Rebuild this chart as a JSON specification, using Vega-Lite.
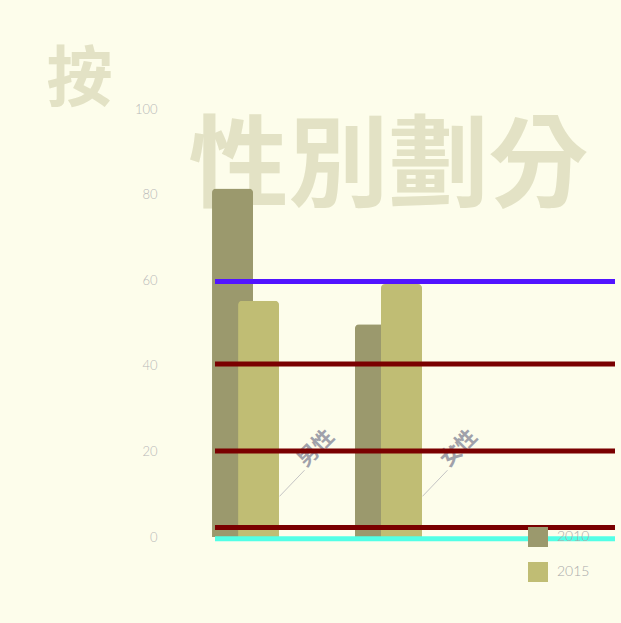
{
  "$schema": "https://vega.github.io/schema/vega-lite/v6.json",
  "width": 400,
  "height": 428,
  "autosize": {"type": "none"},
  "padding": {"left": 215, "top": 109, "right": 6, "bottom": 86},
  "background": "#fdfdeb",
  "config": {"view": {"stroke": null}},
  "data": {
    "values": [
      {"gender": "男性", "year": "2010", "value": 81.4},
      {"gender": "男性", "year": "2015", "value": 55.2},
      {"gender": "女性", "year": "2010", "value": 49.7},
      {"gender": "女性", "year": "2015", "value": 59.1}
    ]
  },
  "layer": [
    {
      "transform": [{"filter": "datum.year == '2010'"}],
      "mark": {"type": "bar", "width": 41, "color": "#000000", "opacity": 0.09, "cornerRadiusTopLeft": 4, "cornerRadiusTopRight": 4, "xOffset": -4, "yOffset": 2},
      "encoding": {
        "x": {"field": "gender", "type": "nominal", "sort": ["男性", "女性"], "scale": {"paddingInner": 0.636, "paddingOuter": 0.717, "align": 0.022},
          "axis": {"domain": false, "ticks": false, "labelAngle": -45, "labelAlign": "left", "labelBaseline": "middle", "labelOffset": 56, "labelPadding": -74, "labelFont": "Noto Sans CJK TC", "labelFontWeight": "bold", "labelFontSize": 21, "labelColor": "#a0a1aa",
            "title": "按", "titleFont": "Noto Sans CJK TC", "titleFontWeight": "bold", "titleFontSize": 66, "titleColor": "#e3e2c5", "titleAngle": 0, "titleAlign": "left", "titleBaseline": "alphabetic", "titleX": -169, "titleY": -437}},
        "xOffset": {"field": "year", "type": "nominal", "scale": {"domain": ["2010", "2015"], "paddingInner": 0, "paddingOuter": 0}},
        "y": {"field": "value", "type": "quantitative", "scale": {"domain": [0, 100]},
          "axis": {"values": [0, 20, 40, 60, 80, 100], "grid": false, "domain": false, "ticks": false, "labelPadding": 58, "labelFont": "Lato", "labelFontWeight": 300, "labelFontSize": 13, "labelColor": "#b8b8b8",
            "title": "性別劃分", "titleFont": "Noto Sans CJK TC", "titleFontWeight": "bold", "titleFontSize": 100, "titleColor": "#e3e2c5", "titleAngle": 0, "titleAlign": "left", "titleBaseline": "alphabetic", "titleX": -27, "titleY": 89}}
      }
    },
    {
      "transform": [{"filter": "datum.year == '2010'"}],
      "mark": {"type": "bar", "width": 41, "cornerRadiusTopLeft": 4, "cornerRadiusTopRight": 4},
      "encoding": {
        "x": {"field": "gender", "type": "nominal", "sort": ["男性", "女性"], "scale": {"paddingInner": 0.636, "paddingOuter": 0.717, "align": 0.022}},
        "xOffset": {"field": "year", "type": "nominal", "scale": {"domain": ["2010", "2015"], "paddingInner": 0, "paddingOuter": 0}},
        "y": {"field": "value", "type": "quantitative", "scale": {"domain": [0, 100]}},
        "color": {"field": "year", "type": "nominal", "scale": {"domain": ["2010", "2015"], "range": ["#9b996d", "#c0bd74"]},
          "legend": {"orient": "none", "legendX": 313, "legendY": 418, "title": null, "symbolType": "square", "symbolSize": 400, "symbolStrokeWidth": 0, "symbolOpacity": 1, "labelFont": "Lato", "labelFontWeight": 300, "labelFontSize": 14, "labelColor": "#aaaaaa", "labelOffset": 9, "rowPadding": 15, "padding": 0}}
      }
    },
    {
      "transform": [{"filter": "datum.year == '2015'"}],
      "mark": {"type": "bar", "width": 41, "color": "#000000", "opacity": 0.09, "cornerRadiusTopLeft": 4, "cornerRadiusTopRight": 4, "xOffset": -4, "yOffset": 2},
      "encoding": {
        "x": {"field": "gender", "type": "nominal", "sort": ["男性", "女性"], "scale": {"paddingInner": 0.636, "paddingOuter": 0.717, "align": 0.022}},
        "xOffset": {"field": "year", "type": "nominal", "scale": {"domain": ["2010", "2015"], "paddingInner": 0, "paddingOuter": 0}},
        "y": {"field": "value", "type": "quantitative", "scale": {"domain": [0, 100]}}
      }
    },
    {
      "transform": [{"filter": "datum.year == '2015'"}],
      "mark": {"type": "bar", "width": 41, "cornerRadiusTopLeft": 4, "cornerRadiusTopRight": 4},
      "encoding": {
        "x": {"field": "gender", "type": "nominal", "sort": ["男性", "女性"], "scale": {"paddingInner": 0.636, "paddingOuter": 0.717, "align": 0.022}},
        "xOffset": {"field": "year", "type": "nominal", "scale": {"domain": ["2010", "2015"], "paddingInner": 0, "paddingOuter": 0}},
        "y": {"field": "value", "type": "quantitative", "scale": {"domain": [0, 100]}},
        "color": {"field": "year", "type": "nominal", "scale": {"domain": ["2010", "2015"], "range": ["#9b996d", "#c0bd74"]}}
      }
    },
    {
      "transform": [{"filter": "datum.year == '2010'"}],
      "mark": {"type": "rule", "color": "#c4c4c4", "strokeWidth": 1, "xOffset": 34, "x2Offset": 59},
      "encoding": {
        "x": {"field": "gender", "type": "nominal", "sort": ["男性", "女性"], "bandPosition": 0.5, "scale": {"paddingInner": 0.636, "paddingOuter": 0.717, "align": 0.022}},
        "x2": {"field": "gender", "bandPosition": 0.5},
        "y": {"datum": 9.5, "type": "quantitative", "scale": {"domain": [0, 100]}},
        "y2": {"datum": 15.6}
      }
    },
    {
      "data": {
        "values": [
          {"level": 59.7, "line": "a"},
          {"level": 40.4, "line": "b"},
          {"level": 20.1, "line": "b"},
          {"level": 2.2, "line": "b"},
          {"level": -0.4, "line": "c"}
        ]
      },
      "mark": {"type": "rule", "strokeWidth": 5},
      "encoding": {
        "y": {"field": "level", "type": "quantitative", "scale": {"domain": [0, 100]}},
        "stroke": {"field": "line", "type": "nominal", "scale": {"domain": ["a", "b", "c"], "range": ["#5214ff", "#7a0000", "#52ffe6"]}, "legend": null}
      }
    }
  ]
}
